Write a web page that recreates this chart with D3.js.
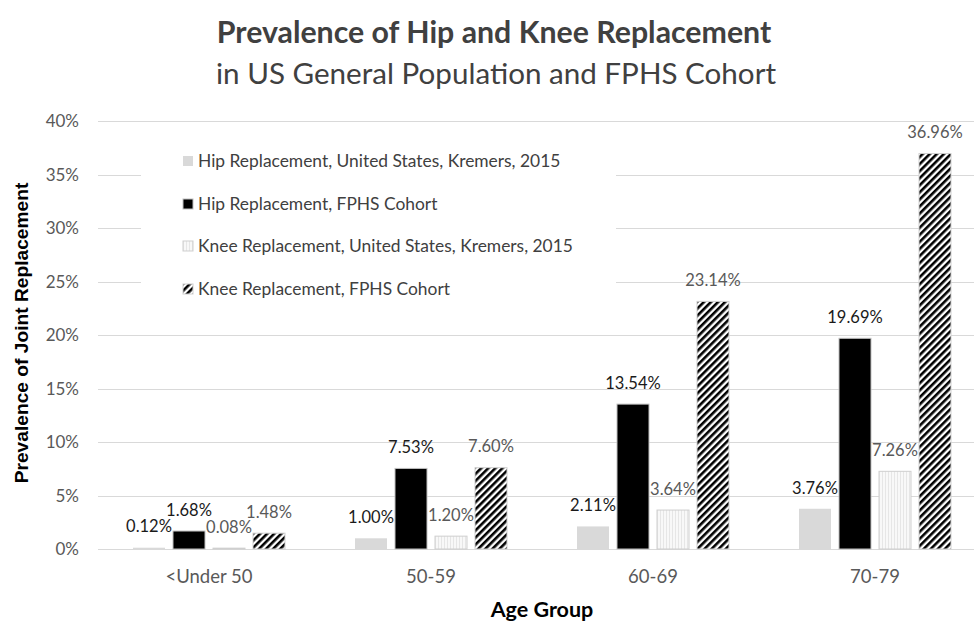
<!DOCTYPE html>
<html lang="en" dir="ltr">
  <head>
    <meta charset="utf-8">
    <title>Prevalence of Hip and Knee Replacement</title>
    <script type="text/javascript" src="https://cdn.jsdelivr.net/npm/d3@7/dist/d3.min.js"></script>
    <style>
      body { margin: 0; background: #fff; }
      svg text { font-family: Lato, "Open Sans", sans-serif; }
      .axis path { display: none; }
      .axis line { stroke: none; }
      .axis text { fill: #595959; font-size: 17px; }
      .x.axis text { font-size: 18.5px; }
      .grid line { stroke: #d9d9d9; stroke-width: 1.3; shape-rendering: crispEdges; }
    </style>
  </head>
  <body>
    <script type="text/javascript">
      var ageGroups = ["<Under 50", "50-59", "60-69", "70-79"];
      var seriesNames = [
        "Hip Replacement, United States, Kremers, 2015",
        "Hip Replacement, FPHS Cohort",
        "Knee Replacement, United States, Kremers, 2015",
        "Knee Replacement, FPHS Cohort"
      ];
      var hipUS = [0.12, 1.00, 2.11, 3.76];
      var hipFPHS = [1.68, 7.53, 13.54, 19.69];
      var kneeUS = [0.08, 1.20, 3.64, 7.26];
      var kneeFPHS = [1.48, 7.60, 23.14, 36.96];
      var yTicks = [0, 5, 10, 15, 20, 25, 30, 35, 40];

      var seriesValues = [hipUS, hipFPHS, kneeUS, kneeFPHS];

      var w = 974;
      var h = 623;

      var svg = d3.select("body")
                  .append("svg")
                  .attr("width", w)
                  .attr("height", h);

      // patterns for the bars
      var defs = svg.append("defs");
      var hatch = defs.append("pattern")
                      .attr("id", "hatch")
                      .attr("patternUnits", "userSpaceOnUse")
                      .attr("width", 5)
                      .attr("height", 5)
                      .attr("patternTransform", "rotate(45)");
      hatch.append("rect").attr("width", 5).attr("height", 5).attr("fill", "#fff");
      hatch.append("rect").attr("width", 2.6).attr("height", 5).attr("fill", "#000");

      var vlines = defs.append("pattern")
                       .attr("id", "vlines")
                       .attr("patternUnits", "userSpaceOnUse")
                       .attr("width", 3)
                       .attr("height", 3);
      vlines.append("rect").attr("width", 3).attr("height", 3).attr("fill", "#f8f8f8");
      vlines.append("rect").attr("width", 1).attr("height", 3).attr("fill", "#e6e6e6");

      var fills = ["#d9d9d9", "#000", "url(#vlines)", "url(#hatch)"];
      var strokes = ["none", "#bfbfbf", "#cfcfcf", "#d0d0d0"];
      var labelColors = ["#1a1a1a", "#1a1a1a", "#595959", "#595959"];

      var x0 = d3.scaleBand()
                 .domain(ageGroups)
                 .range([98, 986]);

      var x1 = d3.scaleBand()
                 .domain(d3.range(4))
                 .range([-80, 80])
                 .paddingInner(0.2)
                 .paddingOuter(0.1);

      var yScale = d3.scaleLinear()
                     .domain([0, 40])
                     .range([549, 121]);

      // gridlines
      svg.append("g")
         .attr("class", "grid")
         .selectAll("line")
         .data(yTicks)
         .enter()
         .append("line")
         .attr("x1", 98)
         .attr("x2", 986)
         .attr("y1", function(d) { return Math.round(yScale(d)) + 0.5; })
         .attr("y2", function(d) { return Math.round(yScale(d)) + 0.5; });

      var yAxis = d3.axisLeft(yScale)
                    .tickValues(yTicks)
                    .tickSize(0)
                    .tickPadding(0)
                    .tickFormat(function(d) { return d + "%"; });

      svg.append("g")
         .attr("class", "y axis")
         .attr("transform", "translate(79,0)")
         .call(yAxis)
         .selectAll("text")
         .attr("dy", "0.35em");

      var xAxis = d3.axisBottom(x0)
                    .tickSize(0)
                    .tickPadding(0);

      svg.append("g")
         .attr("class", "x axis")
         .attr("transform", "translate(0,577)")
         .call(xAxis)
         .selectAll("text")
         .attr("dy", "0.35em");

      // legend background hides gridlines behind it
      svg.append("rect")
         .attr("x", 141)
         .attr("y", 140)
         .attr("width", 475)
         .attr("height", 170)
         .attr("fill", "#fff");

      // bars
      var groups = svg.append("g")
                      .selectAll("g")
                      .data(seriesValues)
                      .enter()
                      .append("g");

      groups.selectAll("rect")
            .data(function(vals, s) {
              return vals.map(function(v, i) { return {s: s, i: i, v: v}; });
            })
            .enter()
            .append("rect")
            .attr("x", function(d) { return x0(ageGroups[d.i]) + x0.bandwidth() / 2 + x1(d.s); })
            .attr("y", function(d) { return yScale(d.v); })
            .attr("width", x1.bandwidth())
            .attr("height", function(d) { return yScale(0) - yScale(d.v); })
            .attr("fill", function(d) { return fills[d.s]; })
            .attr("stroke", function(d) { return strokes[d.s]; })
            .attr("stroke-width", 1);

      groups.selectAll("text")
            .data(function(vals, s) {
              return vals.map(function(v, i) { return {s: s, i: i, v: v}; });
            })
            .enter()
            .append("text")
            .attr("x", function(d) { return x0(ageGroups[d.i]) + x0.bandwidth() / 2 + x1(d.s) + x1.bandwidth() / 2; })
            .attr("y", function(d) { return yScale(d.v) - 21; })
            .attr("dy", "0.35em")
            .attr("text-anchor", "middle")
            .attr("font-size", "16.5px")
            .attr("fill", function(d) { return labelColors[d.s]; })
            .text(function(d) { return d.v.toFixed(2) + "%"; });

      // legend
      var legend = svg.append("g")
                      .selectAll("g")
                      .data(seriesNames)
                      .enter()
                      .append("g")
                      .attr("transform", function(d, i) { return "translate(183," + [161, 204, 246, 289][i] + ")"; });

      legend.append("rect")
            .attr("x", 0)
            .attr("y", -5)
            .attr("width", 10)
            .attr("height", 10)
            .attr("fill", function(d, i) { return fills[i]; })
            .attr("stroke", function(d, i) { return strokes[i]; });

      legend.append("text")
            .attr("x", 15)
            .attr("dy", "0.35em")
            .attr("font-size", "17.4px")
            .attr("fill", "#404040")
            .text(function(d) { return d; });

      // titles
      svg.append("text")
         .attr("x", 494)
         .attr("y", 32)
         .attr("dy", "0.35em")
         .attr("text-anchor", "middle")
         .attr("font-size", "30.3px")
         .attr("font-weight", "bold")
         .attr("fill", "#404040")
         .text("Prevalence of Hip and Knee Replacement");

      svg.append("text")
         .attr("x", 496)
         .attr("y", 74)
         .attr("dy", "0.35em")
         .attr("text-anchor", "middle")
         .attr("font-size", "29.6px")
         .attr("fill", "#404040")
         .text("in US General Population and FPHS Cohort");

      svg.append("text")
         .attr("x", 542)
         .attr("y", 609)
         .attr("dy", "0.35em")
         .attr("text-anchor", "middle")
         .attr("font-size", "21.5px")
         .attr("font-weight", "bold")
         .attr("fill", "#000")
         .text("Age Group");

      svg.append("text")
         .attr("transform", "translate(21,333) rotate(-90)")
         .attr("dy", "0.35em")
         .attr("text-anchor", "middle")
         .style("font-family", "'Liberation Sans', Arial, sans-serif")
         .attr("font-size", "19.2px")
         .attr("font-weight", "bold")
         .attr("fill", "#000")
         .text("Prevalence of Joint Replacement");
    </script>
  </body>
</html>
